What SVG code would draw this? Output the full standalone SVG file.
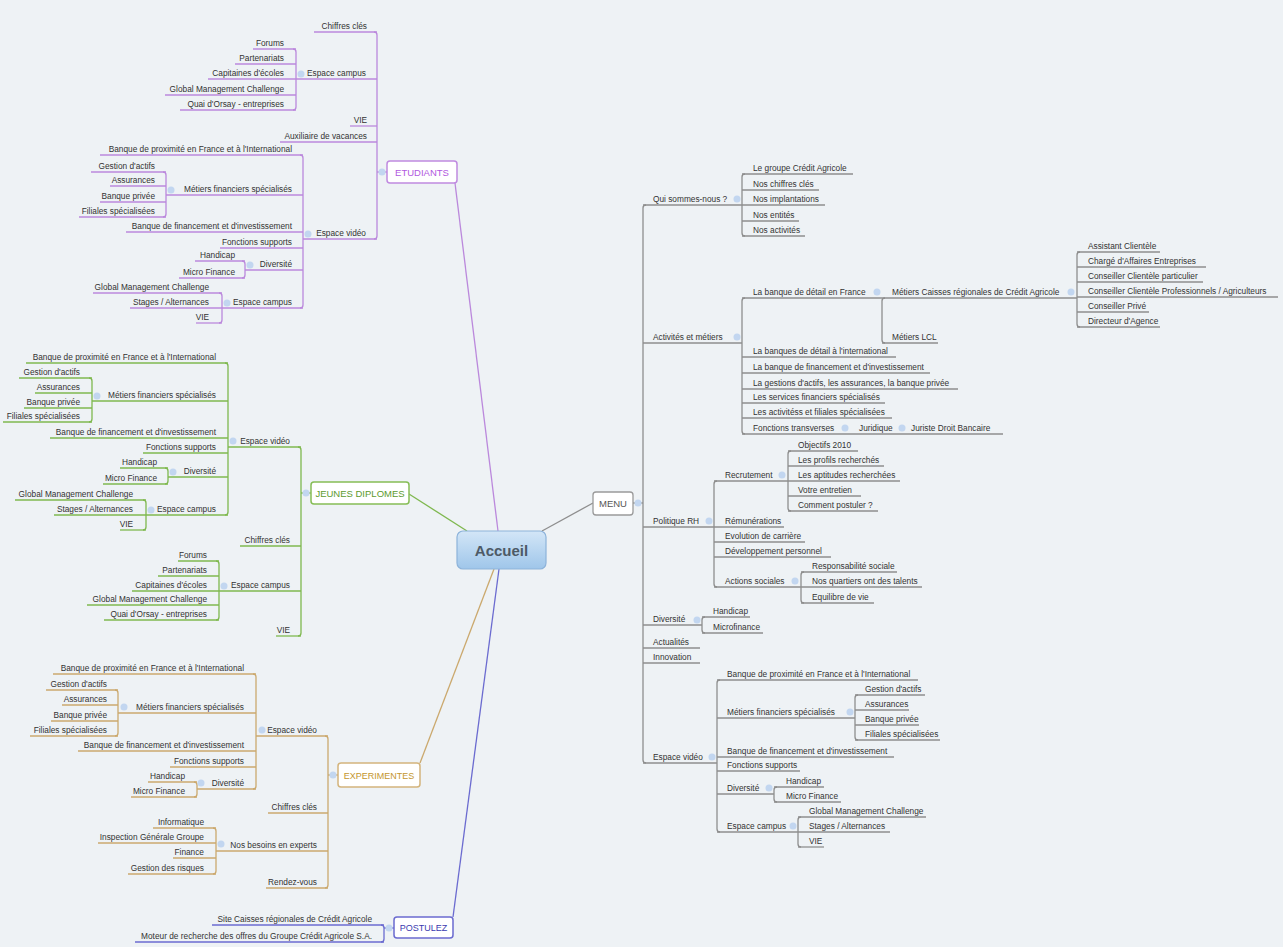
<svg xmlns="http://www.w3.org/2000/svg" width="1283" height="947" viewBox="0 0 1283 947">
<defs>
<linearGradient id="acc" x1="0" y1="0" x2="0" y2="1"><stop offset="0" stop-color="#d3e6f7"/><stop offset="1" stop-color="#9fc6ea"/></linearGradient>
<style>
.t{font-family:"Liberation Sans",Arial,sans-serif;font-size:8.3px;fill:#333}
.e{text-anchor:end}
.bx{font-family:"Liberation Sans",Arial,sans-serif;font-size:9.5px;text-anchor:middle}
.dot{fill:#c2d6f0}
#connectors path{fill:none;stroke-width:1.3}
.cp path{stroke:#bb88dc}
.cg path{stroke:#7fb84f}
.co path{stroke:#cba96e}
.cb path{stroke:#6b6bd0}
.ck path{stroke:#8e8e8e}
</style>
</defs>
<rect width="1283" height="947" fill="#eef2f5"/>
<g id="connectors">
<g class="cp">
<path d="M455 183 L498 531"/>
<path d="M374 32 Q377 32 377 35 V236 Q377 239 374 239"/>
<path d="M377 172 H387"/>
<path d="M314 32 H377"/><path d="M296 79 H377"/><path d="M350 126 H377"/><path d="M280 142 H377"/><path d="M303 239 H377"/>
<path d="M293 49 Q296 49 296 52 V107 Q296 110 293 110"/>
<path d="M253 49 H296"/><path d="M235 64 H296"/><path d="M208 79 H296"/><path d="M165 95 H296"/><path d="M180 110 H296"/>
<path d="M300 155 Q303 155 303 158 V305 Q303 308 300 308"/>
<path d="M100 155 H303"/><path d="M166 195 H303"/><path d="M126 232 H303"/><path d="M220 248 H303"/><path d="M245 270 H303"/><path d="M222 308 H303"/>
<path d="M163 172 Q166 172 166 175 V214 Q166 217 163 217"/>
<path d="M91 172 H166"/><path d="M110 186 H166"/><path d="M100 202 H166"/><path d="M79 217 H166"/>
<path d="M242 261 Q245 261 245 264 V275 Q245 278 242 278"/>
<path d="M195 261 H245"/><path d="M179 278 H245"/>
<path d="M219 293 Q222 293 222 296 V320 Q222 323 219 323"/>
<path d="M93 293 H222"/><path d="M130 308 H222"/><path d="M196 323 H222"/>
</g>
<g class="cg">
<path d="M409 494 L467 531"/>
<path d="M298 447 Q301 447 301 450 V633 Q301 636 298 636"/>
<path d="M301 493 H311"/>
<path d="M228 447 H301"/><path d="M240 546 H301"/><path d="M219 591 H301"/><path d="M276 636 H301"/>
<path d="M225 363 Q228 363 228 366 V512 Q228 515 225 515"/>
<path d="M26 363 H228"/><path d="M92 401 H228"/><path d="M50 438 H228"/><path d="M143 453 H228"/><path d="M168 477 H228"/><path d="M146 515 H228"/>
<path d="M89 378 Q92 378 92 381 V419 Q92 422 89 422"/>
<path d="M19 378 H92"/><path d="M35 393 H92"/><path d="M24 408 H92"/><path d="M3 422 H92"/>
<path d="M165 468 Q168 468 168 471 V481 Q168 484 165 484"/>
<path d="M120 468 H168"/><path d="M103 484 H168"/>
<path d="M143 500 Q146 500 146 503 V527 Q146 530 143 530"/>
<path d="M15 500 H146"/><path d="M54 515 H146"/><path d="M120 530 H146"/>
<path d="M216 561 Q219 561 219 564 V617 Q219 620 216 620"/>
<path d="M178 561 H219"/><path d="M158 576 H219"/><path d="M132 591 H219"/><path d="M87 605 H219"/><path d="M104 620 H219"/>
</g>
<g class="co">
<path d="M420 763 L494 569"/>
<path d="M325 736 Q328 736 328 739 V885 Q328 888 325 888"/>
<path d="M328 775 H338"/>
<path d="M256 736 H328"/><path d="M268 813 H328"/><path d="M216 851 H328"/><path d="M266 888 H328"/>
<path d="M253 674 Q256 674 256 677 V786 Q256 789 253 789"/>
<path d="M53 674 H256"/><path d="M118 713 H256"/><path d="M78 751 H256"/><path d="M170 767 H256"/><path d="M197 789 H256"/>
<path d="M115 690 Q118 690 118 693 V733 Q118 736 115 736"/>
<path d="M46 690 H118"/><path d="M62 705 H118"/><path d="M51 721 H118"/><path d="M30 736 H118"/>
<path d="M194 782 Q197 782 197 785 V794 Q197 797 194 797"/>
<path d="M148 782 H197"/><path d="M131 797 H197"/>
<path d="M213 828 Q216 828 216 831 V871 Q216 874 213 874"/>
<path d="M153 828 H216"/><path d="M98 843 H216"/><path d="M173 858 H216"/><path d="M128 874 H216"/>
</g>
<g class="cb">
<path d="M453 917 L499 569"/>
<path d="M381 925 Q384 925 384 928 V939 Q384 942 381 942"/>
<path d="M384 928 H394"/>
<path d="M212 925 H384"/><path d="M135 942 H384"/>
</g>
<g class="ck">
<path d="M542 531 L593 503"/>
<path d="M633 503 H643"/>
<path d="M646 205 Q643 205 643 208 V760 Q643 763 646 763"/>
<path d="M643 205 H742"/><path d="M643 343 H742"/><path d="M643 527 H714"/><path d="M643 625 H702"/><path d="M643 648 H700"/><path d="M643 663 H700"/><path d="M643 763 H717"/>
<path d="M745 174 Q742 174 742 177 V233 Q742 236 745 236"/>
<path d="M742 174 H853"/><path d="M742 190 H819"/><path d="M742 205 H825"/><path d="M742 221 H799"/><path d="M742 236 H805"/>
<path d="M745 298 Q742 298 742 301 V431 Q742 434 745 434"/>
<path d="M742 298 H882"/><path d="M742 357 H896"/><path d="M742 373 H930"/><path d="M742 389 H958"/><path d="M742 403 H885"/><path d="M742 418 H892"/><path d="M742 434 H1003"/>
<path d="M885 298 Q882 298 882 301 V340 Q882 343 885 343"/>
<path d="M882 298 H1077"/><path d="M882 343 H938"/>
<path d="M1080 252 Q1077 252 1077 255 V324 Q1077 327 1080 327"/>
<path d="M1077 252 H1160"/><path d="M1077 267 H1206"/><path d="M1077 282 H1203"/><path d="M1077 297 H1278"/><path d="M1077 312 H1149"/><path d="M1077 327 H1160"/>
<path d="M717 481 Q714 481 714 484 V584 Q714 587 717 587"/>
<path d="M714 481 H788"/><path d="M714 527 H784"/><path d="M714 542 H805"/><path d="M714 557 H831"/><path d="M714 587 H801"/>
<path d="M791 451 Q788 451 788 454 V508 Q788 511 791 511"/>
<path d="M788 451 H858"/><path d="M788 466 H884"/><path d="M788 481 H900"/><path d="M788 496 H861"/><path d="M788 511 H878"/>
<path d="M804 572 Q801 572 801 575 V600 Q801 603 804 603"/>
<path d="M801 572 H897"/><path d="M801 587 H922"/><path d="M801 603 H874"/>
<path d="M705 617 Q702 617 702 620 V630 Q702 633 705 633"/>
<path d="M702 617 H750"/><path d="M702 633 H763"/>
<path d="M720 680 Q717 680 717 683 V829 Q717 832 720 832"/>
<path d="M717 680 H918"/><path d="M717 718 H855"/><path d="M717 757 H894"/><path d="M717 771 H800"/><path d="M717 794 H774"/><path d="M717 832 H798"/>
<path d="M858 695 Q855 695 855 698 V737 Q855 740 858 740"/>
<path d="M855 695 H925"/><path d="M855 710 H909"/><path d="M855 725 H919"/><path d="M855 740 H940"/>
<path d="M777 787 Q774 787 774 790 V799 Q774 802 777 802"/>
<path d="M774 787 H824"/><path d="M774 802 H841"/>
<path d="M801 817 Q798 817 798 820 V844 Q798 847 801 847"/>
<path d="M798 817 H926"/><path d="M798 832 H890"/><path d="M798 847 H824"/>
</g>
</g>

<g id="accueil">
<rect x="457" y="531" width="89" height="38" rx="6" fill="url(#acc)" stroke="#8db3da" stroke-width="1.2"/>
<text x="501.5" y="556" font-family="Liberation Sans, Arial, sans-serif" font-size="15" font-weight="bold" text-anchor="middle" fill="#4d5a66">Accueil</text>
</g>

<g id="etudiants">
<rect x="387" y="161" width="70" height="22" rx="3" fill="#fff" stroke="#c08ae0" stroke-width="1.5"/>
<circle class="dot" cx="382" cy="172" r="3.5"/>
<text class="bx" x="422" y="175.5" fill="#b158e0">ETUDIANTS</text>
</g>
<g id="etudiants-children">
<g id="e-chiffres"><text class="t e" x="367" y="29">Chiffres clés</text></g>
<g id="e-campus"><circle class="dot" cx="301" cy="74" r="3.5"/><text class="t e" x="366" y="76">Espace campus</text>
<text class="t e" x="284" y="46">Forums</text><text class="t e" x="284" y="61">Partenariats</text><text class="t e" x="284" y="76">Capitaines d'écoles</text><text class="t e" x="284" y="92">Global Management Challenge</text><text class="t e" x="284" y="107">Quai d'Orsay - entreprises</text></g>
<g id="e-vie"><text class="t e" x="367" y="123">VIE</text></g>
<g id="e-aux"><text class="t e" x="367" y="139">Auxiliaire de vacances</text></g>
<g id="e-video"><circle class="dot" cx="308" cy="234" r="3.5"/><text class="t e" x="366" y="236">Espace vidéo</text>
<text class="t e" x="292" y="152">Banque de proximité en France et à l'International</text>
<g id="e-metiers"><circle class="dot" cx="171" cy="190" r="3.5"/><text class="t e" x="292" y="192">Métiers financiers spécialisés</text>
<text class="t e" x="155" y="169">Gestion d'actifs</text><text class="t e" x="155" y="183">Assurances</text><text class="t e" x="155" y="199">Banque privée</text><text class="t e" x="155" y="214">Filiales spécialisées</text></g>
<text class="t e" x="292" y="229">Banque de financement et d'investissement</text>
<text class="t e" x="292" y="245">Fonctions supports</text>
<g id="e-div"><circle class="dot" cx="250" cy="265" r="3.5"/><text class="t e" x="292" y="267">Diversité</text>
<text class="t e" x="235" y="258">Handicap</text><text class="t e" x="235" y="275">Micro Finance</text></g>
<g id="e-campus2"><circle class="dot" cx="227" cy="303" r="3.5"/><text class="t e" x="292" y="305">Espace campus</text>
<text class="t e" x="209" y="290">Global Management Challenge</text><text class="t e" x="209" y="305">Stages / Alternances</text><text class="t e" x="209" y="320">VIE</text></g>
</g>
</g>

<g id="jeunes">
<rect x="311" y="482" width="98" height="22" rx="3" fill="#fff" stroke="#86bd55" stroke-width="1.5"/>
<circle class="dot" cx="306" cy="493" r="3.5"/>
<text class="bx" x="360" y="496.5" fill="#5c9a2e">JEUNES DIPLOMES</text>
</g>
<g id="jeunes-children">
<g id="j-video"><circle class="dot" cx="233" cy="441" r="3.5"/><text class="t e" x="290" y="444">Espace vidéo</text>
<text class="t e" x="216" y="360">Banque de proximité en France et à l'International</text>
<g id="j-metiers"><circle class="dot" cx="97" cy="396" r="3.5"/><text class="t e" x="216" y="398">Métiers financiers spécialisés</text>
<text class="t e" x="80" y="375">Gestion d'actifs</text><text class="t e" x="80" y="390">Assurances</text><text class="t e" x="80" y="405">Banque privée</text><text class="t e" x="80" y="419">Filiales spécialisées</text></g>
<text class="t e" x="216" y="435">Banque de financement et d'investissement</text>
<text class="t e" x="216" y="450">Fonctions supports</text>
<g id="j-div"><circle class="dot" cx="173" cy="472" r="3.5"/><text class="t e" x="216" y="474">Diversité</text>
<text class="t e" x="157" y="465">Handicap</text><text class="t e" x="157" y="481">Micro Finance</text></g>
<g id="j-campus"><circle class="dot" cx="151" cy="510" r="3.5"/><text class="t e" x="216" y="512">Espace campus</text>
<text class="t e" x="133" y="497">Global Management Challenge</text><text class="t e" x="133" y="512">Stages / Alternances</text><text class="t e" x="133" y="527">VIE</text></g>
</g>
<g id="j-chiffres"><text class="t e" x="290" y="543">Chiffres clés</text></g>
<g id="j-campus2"><circle class="dot" cx="224" cy="586" r="3.5"/><text class="t e" x="290" y="588">Espace campus</text>
<text class="t e" x="207" y="558">Forums</text><text class="t e" x="207" y="573">Partenariats</text><text class="t e" x="207" y="588">Capitaines d'écoles</text><text class="t e" x="207" y="602">Global Management Challenge</text><text class="t e" x="207" y="617">Quai d'Orsay - entreprises</text></g>
<g id="j-vie"><text class="t e" x="290" y="633">VIE</text></g>
</g>

<g id="experimentes">
<rect x="338" y="763" width="82" height="24" rx="3" fill="#fff" stroke="#d3b47c" stroke-width="1.5"/>
<circle class="dot" cx="333" cy="775" r="3.5"/>
<text class="bx" x="379" y="778.5" fill="#c4962e" style="font-size:9px">EXPERIMENTES</text>
</g>
<g id="experimentes-children">
<g id="x-video"><circle class="dot" cx="262" cy="730" r="3.5"/><text class="t e" x="317" y="733">Espace vidéo</text>
<text class="t e" x="244" y="671">Banque de proximité en France et à l'International</text>
<g id="x-metiers"><circle class="dot" cx="124" cy="707" r="3.5"/><text class="t e" x="244" y="710">Métiers financiers spécialisés</text>
<text class="t e" x="107" y="687">Gestion d'actifs</text><text class="t e" x="107" y="702">Assurances</text><text class="t e" x="107" y="718">Banque privée</text><text class="t e" x="107" y="733">Filiales spécialisées</text></g>
<text class="t e" x="244" y="748">Banque de financement et d'investissement</text>
<text class="t e" x="244" y="764">Fonctions supports</text>
<g id="x-div"><circle class="dot" cx="201" cy="783" r="3.5"/><text class="t e" x="244" y="786">Diversité</text>
<text class="t e" x="185" y="779">Handicap</text><text class="t e" x="185" y="794">Micro Finance</text></g>
</g>
<g id="x-chiffres"><text class="t e" x="317" y="810">Chiffres clés</text></g>
<g id="x-besoins"><circle class="dot" cx="221" cy="844" r="3.5"/><text class="t e" x="317" y="848">Nos besoins en experts</text>
<text class="t e" x="204" y="825">Informatique</text><text class="t e" x="204" y="840">Inspection Générale Groupe</text><text class="t e" x="204" y="855">Finance</text><text class="t e" x="204" y="871">Gestion des risques</text></g>
<g id="x-rdv"><text class="t e" x="317" y="885">Rendez-vous</text></g>
</g>

<g id="postulez">
<rect x="394" y="917" width="59" height="21" rx="3" fill="#fff" stroke="#6b6bd0" stroke-width="1.5"/>
<circle class="dot" cx="389" cy="928" r="3.5"/>
<text class="bx" x="423.5" y="931" fill="#3a3ab0" style="font-size:9px">POSTULEZ</text>
</g>
<g id="postulez-children">
<text class="t e" x="372" y="922">Site Caisses régionales de Crédit Agricole</text>
<text class="t e" x="372" y="939">Moteur de recherche des offres du Groupe Crédit Agricole S.A.</text>
</g>

<g id="menu">
<rect x="593" y="492" width="40" height="23" rx="3" fill="#fff" stroke="#9a9a9a" stroke-width="1.3"/>
<circle class="dot" cx="638" cy="503" r="3.5"/>
<text class="bx" x="613" y="506.5" fill="#555">MENU</text>
</g>
<g id="menu-children">
<g id="m-qui"><circle class="dot" cx="737" cy="199" r="3.5"/><text class="t" x="653" y="202">Qui sommes-nous ?</text>
<text class="t" x="753" y="171">Le groupe Crédit Agricole</text><text class="t" x="753" y="187">Nos chiffres clés</text><text class="t" x="753" y="202">Nos implantations</text><text class="t" x="753" y="218">Nos entités</text><text class="t" x="753" y="233">Nos activités</text></g>
<g id="m-activites"><circle class="dot" cx="737" cy="337" r="3.5"/><text class="t" x="653" y="340">Activités et métiers</text>
<g id="m-detail"><circle class="dot" cx="877" cy="292" r="3.5"/><text class="t" x="753" y="295">La banque de détail en France</text>
<g id="m-caisses"><circle class="dot" cx="1071" cy="292" r="3.5"/><text class="t" x="892" y="295">Métiers Caisses régionales de Crédit Agricole</text>
<text class="t" x="1088" y="249">Assistant Clientèle</text><text class="t" x="1088" y="264">Chargé d'Affaires Entreprises</text><text class="t" x="1088" y="279">Conseiller Clientèle particulier</text><text class="t" x="1088" y="294">Conseiller Clientèle Professionnels / Agriculteurs</text><text class="t" x="1088" y="309">Conseiller Privé</text><text class="t" x="1088" y="324">Directeur d'Agence</text></g>
<text class="t" x="892" y="340">Métiers LCL</text></g>
<text class="t" x="753" y="354">La banques de détail à l'international</text>
<text class="t" x="753" y="370">La banque de financement et d'investissement</text>
<text class="t" x="753" y="386">La gestions d'actifs, les assurances, la banque privée</text>
<text class="t" x="753" y="400">Les services financiers spécialisés</text>
<text class="t" x="753" y="415">Les activitéss et filiales spécialisées</text>
<g id="m-transverses"><circle class="dot" cx="845" cy="428" r="3.5"/><circle class="dot" cx="902" cy="428" r="3.5"/><text class="t" x="753" y="431">Fonctions transverses</text><text class="t" x="859" y="431">Juridique</text><text class="t" x="911" y="431">Juriste Droit Bancaire</text></g>
</g>
<g id="m-rh"><circle class="dot" cx="709" cy="521" r="3.5"/><text class="t" x="653" y="524">Politique RH</text>
<g id="m-recrut"><circle class="dot" cx="782" cy="475" r="3.5"/><text class="t" x="725" y="478">Recrutement</text>
<text class="t" x="798" y="448">Objectifs 2010</text><text class="t" x="798" y="463">Les profils recherchés</text><text class="t" x="798" y="478">Les aptitudes recherchées</text><text class="t" x="798" y="493">Votre entretien</text><text class="t" x="798" y="508">Comment postuler ?</text></g>
<text class="t" x="725" y="524">Rémunérations</text>
<text class="t" x="725" y="539">Evolution de carrière</text>
<text class="t" x="725" y="554">Développement personnel</text>
<g id="m-actions"><circle class="dot" cx="795" cy="581" r="3.5"/><text class="t" x="725" y="584">Actions sociales</text>
<text class="t" x="812" y="569">Responsabilité sociale</text><text class="t" x="812" y="584">Nos quartiers ont des talents</text><text class="t" x="812" y="600">Equilibre de vie</text></g>
</g>
<g id="m-div"><circle class="dot" cx="697" cy="620" r="3.5"/><text class="t" x="653" y="622">Diversité</text>
<text class="t" x="713" y="614">Handicap</text><text class="t" x="713" y="630">Microfinance</text></g>
<g id="m-actu"><text class="t" x="653" y="645">Actualités</text></g>
<g id="m-innov"><text class="t" x="653" y="660">Innovation</text></g>
<g id="m-video"><circle class="dot" cx="712" cy="757" r="3.5"/><text class="t" x="653" y="760">Espace vidéo</text>
<text class="t" x="727" y="677">Banque de proximité en France et à l'International</text>
<g id="m-metiers"><circle class="dot" cx="850" cy="712" r="3.5"/><text class="t" x="727" y="715">Métiers financiers spécialisés</text>
<text class="t" x="865" y="692">Gestion d'actifs</text><text class="t" x="865" y="707">Assurances</text><text class="t" x="865" y="722">Banque privée</text><text class="t" x="865" y="737">Filiales spécialisées</text></g>
<text class="t" x="727" y="754">Banque de financement et d'investissement</text>
<text class="t" x="727" y="768">Fonctions supports</text>
<g id="m-vdiv"><circle class="dot" cx="769" cy="788" r="3.5"/><text class="t" x="727" y="791">Diversité</text>
<text class="t" x="786" y="784">Handicap</text><text class="t" x="786" y="799">Micro Finance</text></g>
<g id="m-vcampus"><circle class="dot" cx="793" cy="826" r="3.5"/><text class="t" x="727" y="829">Espace campus</text>
<text class="t" x="809" y="814">Global Management Challenge</text><text class="t" x="809" y="829">Stages / Alternances</text><text class="t" x="809" y="844">VIE</text></g>
</g>
</g>
</svg>
